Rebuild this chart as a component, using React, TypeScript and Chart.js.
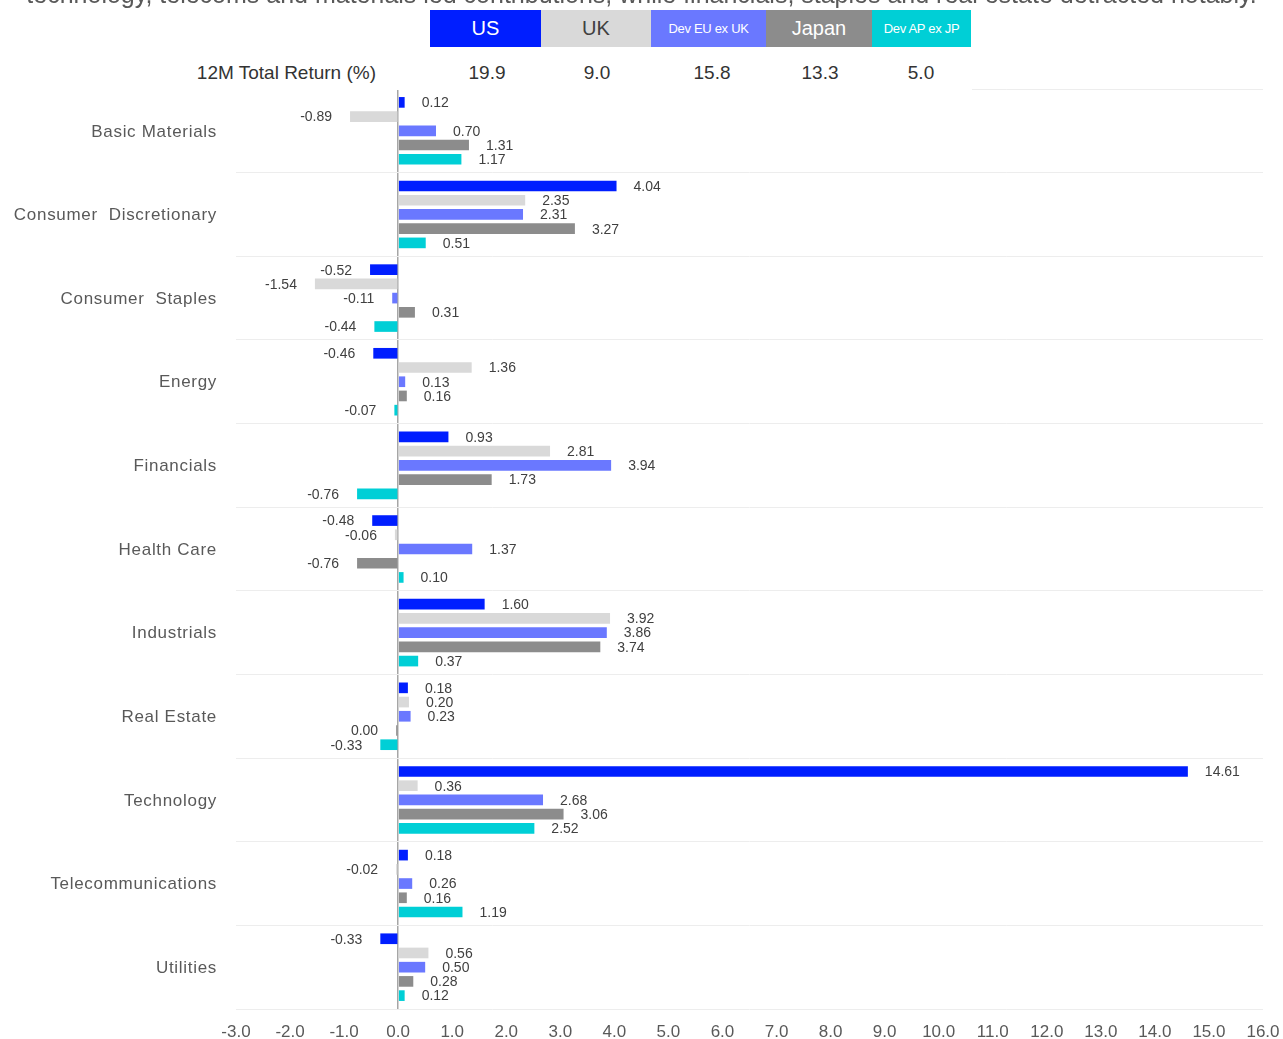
import React, { useEffect, useRef } from "react";
import { Chart, registerables } from "chart.js";

Chart.register(...registerables);

const categories = [
  "Basic Materials",
  "Consumer  Discretionary",
  "Consumer  Staples",
  "Energy",
  "Financials",
  "Health Care",
  "Industrials",
  "Real Estate",
  "Technology",
  "Telecommunications",
  "Utilities",
];

const seriesNames = ["US", "UK", "Dev EU ex UK", "Japan", "Dev AP ex JP"];
const seriesColors = ["#001EFF", "#D9D9D9", "#6A78FF", "#8C8C8C", "#00CFD6"];

const usValues = [0.12, 4.04, -0.52, -0.46, 0.93, -0.48, 1.6, 0.18, 14.61, 0.18, -0.33];
const ukValues = [-0.89, 2.35, -1.54, 1.36, 2.81, -0.06, 3.92, 0.2, 0.36, -0.02, 0.56];
const devEuValues = [0.7, 2.31, -0.11, 0.13, 3.94, 1.37, 3.86, 0.23, 2.68, 0.26, 0.5];
const japanValues = [1.31, 3.27, 0.31, 0.16, 1.73, -0.76, 3.74, -0.004, 3.06, 0.16, 0.28];
const devApValues = [1.17, 0.51, -0.44, -0.07, -0.76, 0.1, 0.37, -0.33, 2.52, 1.19, 0.12];

const totalReturns = ["19.9", "9.0", "15.8", "13.3", "5.0"];

const xMin = -3;
const xMax = 16;
const xStep = 1;

const FONT = '"Liberation Sans", Arial, Helvetica, sans-serif';

const valueLabelPlugin = {
  id: "valueLabels",
  afterDatasetsDraw(chart: any) {
    const ctx = chart.ctx;
    ctx.save();
    ctx.font = `14px ${FONT}`;
    ctx.fillStyle = "#404040";
    ctx.textBaseline = "middle";
    chart.data.datasets.forEach((ds: any, di: number) => {
      const meta = chart.getDatasetMeta(di);
      meta.data.forEach((bar: any, i: number) => {
        const v = ds.data[i] as number;
        const txt = Math.abs(v) < 0.005 ? "0.00" : v.toFixed(2);
        if (v >= 0) {
          ctx.textAlign = "left";
          ctx.fillText(txt, bar.x + 17, bar.y + 1);
        } else {
          ctx.textAlign = "right";
          ctx.fillText(txt, bar.x - 18, bar.y + 1);
        }
      });
    });
    ctx.restore();
  },
};

const categoryLabelPlugin = {
  id: "categoryLabels",
  afterDraw(chart: any) {
    const ctx = chart.ctx;
    const y = chart.scales.y;
    ctx.save();
    ctx.font = `17px ${FONT}`;
    try {
      (ctx as any).letterSpacing = "0.7px";
    } catch (e) {}
    ctx.fillStyle = "#595959";
    ctx.textAlign = "right";
    ctx.textBaseline = "middle";
    (chart.data.labels as string[]).forEach((l, i) => {
      ctx.fillText(l, y.right - 19, y.getPixelForTick(i) + 1);
    });
    ctx.restore();
  },
};

const boxes = [
  { left: 430, width: 111, fontSize: 20, color: "#FFFFFF", valueCenter: 487 },
  { left: 541, width: 110, fontSize: 20, color: "#404040", valueCenter: 597 },
  { left: 651, width: 115, fontSize: 13, color: "#FFFFFF", valueCenter: 712 },
  { left: 766, width: 106, fontSize: 20, color: "#FFFFFF", valueCenter: 820 },
  { left: 872, width: 99, fontSize: 13, color: "#FFFFFF", valueCenter: 921 },
];

export default function App() {
  const canvasRef = useRef<HTMLCanvasElement | null>(null);

  useEffect(() => {
    document.body.style.margin = "0";
    const canvas = canvasRef.current;
    if (!canvas) return;
    const valueSets = [usValues, ukValues, devEuValues, japanValues, devApValues];
    const chart = new Chart(canvas, {
      type: "bar",
      data: {
        labels: categories,
        datasets: seriesNames.map((name, i) => ({
          label: name,
          data: valueSets[i],
          backgroundColor: seriesColors[i],
          borderWidth: 0,
          categoryPercentage: 0.85,
          barPercentage: 0.75,
          minBarLength: 2,
        })),
      },
      options: {
        indexAxis: "y",
        animation: false,
        responsive: false,
        maintainAspectRatio: false,
        layout: { padding: { top: 89, right: 20, bottom: 0, left: 0 } },
        plugins: {
          legend: { display: false },
          tooltip: { enabled: false },
          title: { display: false },
        },
        scales: {
          x: {
            type: "linear",
            min: xMin,
            max: xMax,
            ticks: {
              stepSize: xStep,
              color: "#595959",
              font: { family: FONT, size: 17 },
              padding: 13,
              maxRotation: 0,
              autoSkip: false,
              callback: (v: any) => Number(v).toFixed(1),
            },
            grid: {
              drawTicks: false,
              color: (c: any) => (c.tick && c.tick.value === 0 ? "#A6A6A6" : "rgba(0,0,0,0)"),
              lineWidth: 1.5,
            },
            border: { display: false },
            afterFit: (s: any) => {
              s.height = 30;
              s.paddingLeft = 0;
              s.paddingRight = 0;
            },
          },
          y: {
            type: "category",
            offset: true,
            ticks: { display: false },
            grid: {
              offset: true,
              drawTicks: false,
              color: "#EDEDED",
              lineWidth: 1,
            },
            border: { display: false },
            afterFit: (s: any) => {
              s.width = 236;
            },
          },
        },
      },
      plugins: [valueLabelPlugin, categoryLabelPlugin],
    } as any);
    return () => chart.destroy();
  }, []);

  return (
    <div
      style={{
        position: "relative",
        width: 1283,
        height: 1039,
        overflow: "hidden",
        background: "#FFFFFF",
        fontFamily: FONT,
      }}
    >
      <canvas
        ref={canvasRef}
        width={1283}
        height={1039}
        style={{ position: "absolute", left: 0, top: 0, width: 1283, height: 1039 }}
      />
      <div
        style={{
          position: "absolute",
          left: 0,
          top: 0,
          width: 972,
          height: 90,
          background: "#FFFFFF",
        }}
      />
      <div
        style={{
          position: "absolute",
          left: 0,
          top: -20,
          width: 1283,
          textAlign: "center",
          fontSize: 25,
          lineHeight: "28px",
          color: "#595959",
          whiteSpace: "nowrap",
        }}
      >
        technology, telecoms and materials led contributions, while financials, staples and real estate detracted notably.
      </div>
      {boxes.map((b, i) => (
        <div
          key={seriesNames[i]}
          style={{
            position: "absolute",
            left: b.left,
            top: 10,
            width: b.width,
            height: 37,
            background: seriesColors[i],
            color: b.color,
            fontSize: b.fontSize,
            display: "flex",
            alignItems: "center",
            justifyContent: "center",
            whiteSpace: "nowrap",
            letterSpacing: b.fontSize < 15 ? "-0.3px" : "0px",
          }}
        >
          {seriesNames[i]}
        </div>
      ))}
      <div
        style={{
          position: "absolute",
          left: 60,
          width: 316,
          top: 61,
          height: 24,
          lineHeight: "24px",
          textAlign: "right",
          fontSize: 19,
          color: "#333333",
          whiteSpace: "nowrap",
        }}
      >
        12M Total Return (%)
      </div>
      {boxes.map((b, i) => (
        <div
          key={"r" + i}
          style={{
            position: "absolute",
            left: b.valueCenter - 50,
            width: 100,
            top: 61,
            height: 24,
            lineHeight: "24px",
            textAlign: "center",
            fontSize: 19,
            color: "#333333",
          }}
        >
          {totalReturns[i]}
        </div>
      ))}
    </div>
  );
}
